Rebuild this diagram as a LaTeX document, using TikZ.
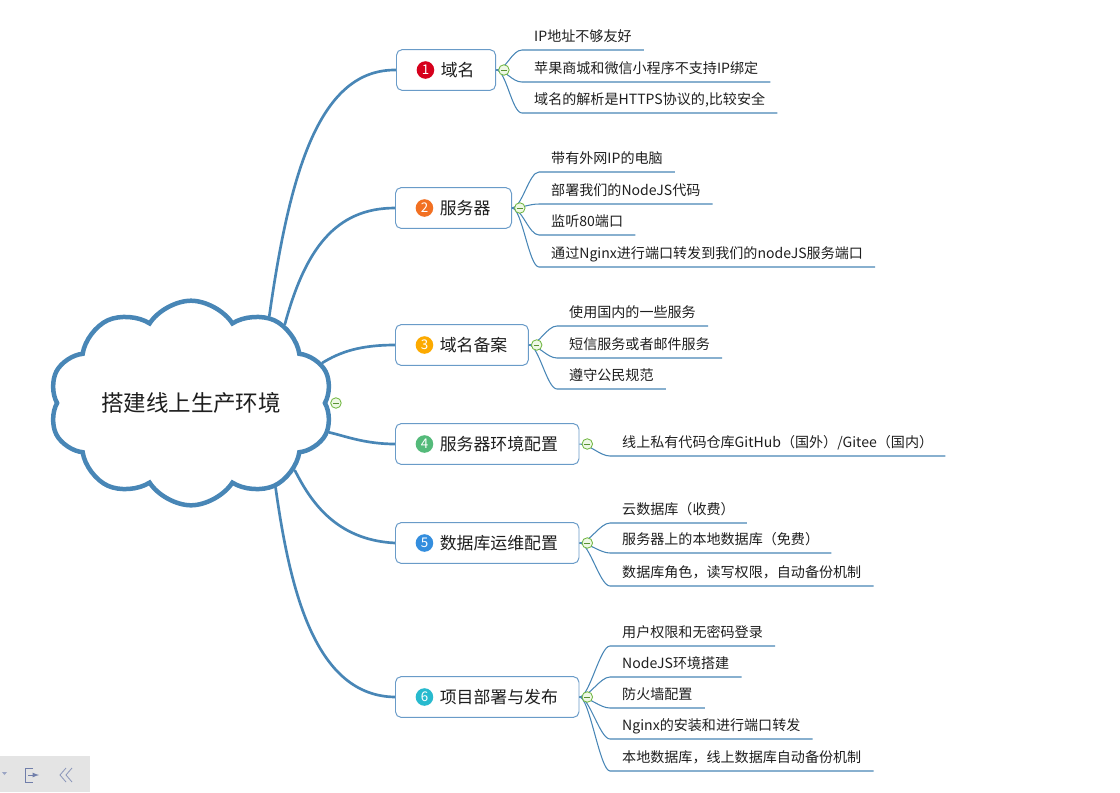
\documentclass[tikz,border=0pt]{standalone}
\usepackage{fontspec}
\setmainfont{Noto Sans CJK SC}
\usetikzlibrary{positioning, shapes.symbols, backgrounds}

\definecolor{linkblue}{RGB}{72,134,182}
\definecolor{boxblue}{RGB}{105,155,200}
\definecolor{inkdark}{RGB}{30,30,30}
\definecolor{foldgreen}{RGB}{112,182,64}
\definecolor{foldfill}{RGB}{238,248,230}
\definecolor{num1}{RGB}{214,0,28}
\definecolor{num2}{RGB}{242,112,34}
\definecolor{num3}{RGB}{252,170,0}
\definecolor{num4}{RGB}{84,186,122}
\definecolor{num5}{RGB}{52,142,222}
\definecolor{num6}{RGB}{40,186,206}
\definecolor{barfill}{RGB}{228,228,228}
\definecolor{iconblue}{RGB}{112,126,170}

\begin{document}
\begin{tikzpicture}[x=0.025cm, y=-0.025cm,
    root/.style={cloud, cloud puffs=10, cloud puff arc=115, aspect=1.6, draw=linkblue, line width=3.2pt,
                 fill=white, minimum width=192pt, minimum height=116pt, text=inkdark,
                 font=\fontsize{16}{16}\selectfont},
    topic/.style={draw=boxblue, line width=0.7pt, rounded corners=4pt, fill=white, anchor=west,
                  minimum height=29pt, inner xsep=15pt, text=inkdark, font=\fontsize{12}{12}\selectfont,
                  execute at begin node=\hspace*{16.5pt}},
    badge/.style={circle, inner sep=0pt, minimum size=12.5pt, text=white, font=\fontsize{9.5}{9.5}\selectfont},
    fold/.style={circle, draw=foldgreen, fill=foldfill, minimum size=7.5pt, inner sep=0pt, line width=0.6pt,
                 path picture={\draw[foldgreen!80!black, line width=0.6pt]
                   ([xshift=-2pt]path picture bounding box.center) -- ([xshift=2pt]path picture bounding box.center);}},
    item/.style={anchor=south west, inner xsep=8.5pt, inner ysep=3pt, text height=7.5pt, text depth=2.5pt,
                 text=inkdark, font=\fontsize{10}{10}\selectfont},
    branch/.style={draw=linkblue, line width=1.9pt, line cap=round},
    twig/.style={draw=linkblue, line width=0.75pt}]

    \useasboundingbox (0,0) rectangle (1120,792); % same frame as the screenshot

    % centre cloud and the six topics
    \node[root] (root) at (191,403) {搭建线上生产环境};

    \node[topic] (b1) at (396,70)  {域名};
    \node[topic] (b2) at (395,208) {服务器};
    \node[topic] (b3) at (395,345) {域名备案};
    \node[topic] (b4) at (395,444) {服务器环境配置};
    \node[topic] (b5) at (395,543) {数据库运维配置};
    \node[topic] (b6) at (395,697) {项目部署与发布};

    \node[badge, fill=num1, right=14.5pt of b1.west] (n1) {1};
    \node[badge, fill=num2, right=14.5pt of b2.west] (n2) {2};
    \node[badge, fill=num3, right=14.5pt of b3.west] (n3) {3};
    \node[badge, fill=num4, right=14.5pt of b4.west] (n4) {4};
    \node[badge, fill=num5, right=14.5pt of b5.west] (n5) {5};
    \node[badge, fill=num6, right=14.5pt of b6.west] (n6) {6};

    % thick branches sit behind the cloud
    \begin{scope}[on background layer]
        \draw[branch] (root.48)  .. controls (290,170) and (320,69)  .. (b1.west);
        \draw[branch] (root.40)  .. controls (305,250) and (335,208) .. (b2.west);
        \draw[branch] (root.17)  .. controls (340,352) and (360,345) .. (b3.west);
        \draw[branch] (root.-12) .. controls (345,436) and (365,444) .. (b4.west);
        \draw[branch] (root.-33) .. controls (310,500) and (335,540) .. (b5.west);
        \draw[branch] (root.-45) .. controls (290,590) and (315,696) .. (b6.west);
    \end{scope}

    % leaves: text sits on its own underline
    \foreach \y/\txt [count=\i] in {50/IP地址不够友好, 82/苹果商城和微信小程序不支持IP绑定, 113/{域名的解析是HTTPS协议的,比较安全}} {
        \node[item] (t1\i) at (522,\y) {\txt};
        \draw[twig] (b1.east) .. controls +(10,0) and +(-10,0) .. (t1\i.south west) -- (t1\i.south east);
    }
    \foreach \y/\txt [count=\i] in {172/带有外网IP的电脑, 204/部署我们的NodeJS代码, 235/监听80端口, 267/通过Nginx进行端口转发到我们的nodeJS服务端口} {
        \node[item] (t2\i) at (539,\y) {\txt};
        \draw[twig] (b2.east) .. controls +(10,0) and +(-10,0) .. (t2\i.south west) -- (t2\i.south east);
    }
    \foreach \y/\txt [count=\i] in {326/使用国内的一些服务, 358/短信服务或者邮件服务, 389/遵守公民规范} {
        \node[item] (t3\i) at (557,\y) {\txt};
        \draw[twig] (b3.east) .. controls +(10,0) and +(-10,0) .. (t3\i.south west) -- (t3\i.south east);
    }
    \node[item] (t41) at (610,456) {线上私有代码仓库GitHub（国外）/Gitee（国内）};
    \draw[twig] (b4.east) .. controls +(10,0) and +(-10,0) .. (t41.south west) -- (t41.south east);
    \foreach \y/\txt [count=\i] in {523/云数据库（收费）, 553/服务器上的本地数据库（免费）, 586/数据库角色，读写权限，自动备份机制} {
        \node[item] (t5\i) at (610,\y) {\txt};
        \draw[twig] (b5.east) .. controls +(10,0) and +(-10,0) .. (t5\i.south west) -- (t5\i.south east);
    }
    \foreach \y/\txt [count=\i] in {646/用户权限和无密码登录, 677/NodeJS环境搭建, 708/防火墙配置, 739/Nginx的安装和进行端口转发, 771/本地数据库，线上数据库自动备份机制} {
        \node[item] (t6\i) at (610,\y) {\txt};
        \draw[twig] (b6.east) .. controls +(10,0) and +(-10,0) .. (t6\i.south west) -- (t6\i.south east);
    }

    % collapse buttons
    \node[fold, right=2pt of root.east] (f0) {};
    \foreach \b in {1,...,6}
        \node[fold, right=1.5pt of b\b.east] (f\b) {};

    % viewer toolbar, bottom left
    \fill[barfill] (0,756) rectangle (90,792);
    \fill[iconblue!70] (2,772) -- (7,772) -- (4.5,775) -- cycle;
    \draw[iconblue, line width=0.6pt] (33,768) -- (25,768) -- (25,782) -- (33,782);
    \draw[iconblue, line width=0.6pt, -latex] (28,775) -- (39,775);
    \draw[iconblue!80, line width=0.6pt] (66,768) -- (60,775) -- (66,782) (72,768) -- (66,775) -- (72,782);

\end{tikzpicture}
\end{document}
